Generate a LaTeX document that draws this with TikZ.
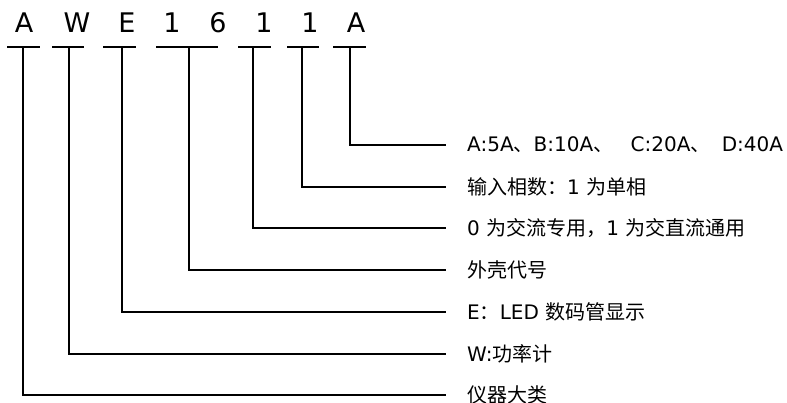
\documentclass[tikz,border=0pt]{standalone}
\usepackage{fontspec}
\setmainfont{DejaVu Sans}
\newfontfamily\cjk{Noto Sans CJK SC}
\begin{document}
\begin{tikzpicture}[x=1pt,y=-1pt,
  code/.style={anchor=base,inner sep=0pt,font=\fontsize{27}{32}\selectfont},
  lab/.style={anchor=west,inner sep=0pt,font=\fontsize{20}{24}\selectfont},
  rule/.style={line width=1.3pt}]
\useasboundingbox (0,0) rectangle (787,403);
\node[code] (c1) at (24,32.3) {A};
\node[code] (c2) at (77,32.3) {W};
\node[code] (c3) at (127,32.3) {E};
\node[code] (c4) at (172,32.3) {1};
\node[code] (c5) at (218,32.3) {6};
\node[code] (c6) at (264,32.3) {1};
\node[code] (c7) at (310,32.3) {1};
\node[code] (c8) at (356,32.3) {A};
\draw[rule] (7,47) -- (40,47);
\draw[rule] (52,47) -- (84,47);
\draw[rule] (103,47) -- (136,47);
\draw[rule] (156,47) -- (218,47);
\draw[rule] (238,47) -- (271,47);
\draw[rule] (287,47) -- (319,47);
\draw[rule] (333,47) -- (366,47);
\coordinate (b1) at (23,47);
\coordinate (b2) at (69,47);
\coordinate (b3) at (122,47);
\coordinate (b4) at (189,47);
\coordinate (b5) at (253,47);
\coordinate (b6) at (302,47);
\coordinate (b7) at (350,47);
\node[lab] (l7) at (467,145) {A:5A{\cjk 、}B:10A{\cjk 、}\hspace{11pt} C:20A{\cjk 、}\hspace{5pt} D:40A};
\node[lab] (l6) at (467,187) {{\cjk 输入相数：}1 {\cjk 为单相}};
\node[lab] (l5) at (467,228) {0 {\cjk 为交流专用，}1 {\cjk 为交直流通用}};
\node[lab] (l4) at (467,270) {\cjk 外壳代号};
\node[lab] (l3) at (467,312) {E{\cjk ：}LED {\cjk 数码管显示}};
\node[lab] (l2) at (467,354) {W:{\cjk 功率计}};
\node[lab] (l1) at (467,395) {\cjk 仪器大类};
\draw[rule] (b7) |- ([xshift=-21pt]l7.west);
\draw[rule] (b6) |- ([xshift=-21pt]l6.west);
\draw[rule] (b5) |- ([xshift=-21pt]l5.west);
\draw[rule] (b4) |- ([xshift=-21pt]l4.west);
\draw[rule] (b3) |- ([xshift=-21pt]l3.west);
\draw[rule] (b2) |- ([xshift=-21pt]l2.west);
\draw[rule] (b1) |- ([xshift=-21pt]l1.west);
\end{tikzpicture}
\end{document}
